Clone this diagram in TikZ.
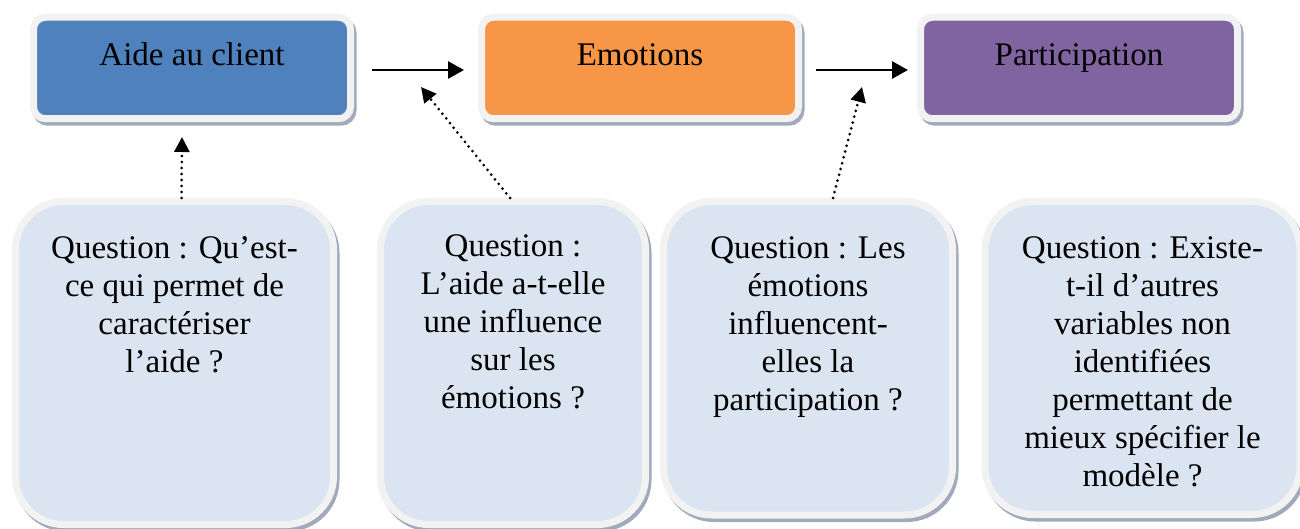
\documentclass[tikz,border=0pt]{standalone}
\usepackage{fontspec}
\setmainfont{Liberation Serif}
\usetikzlibrary{arrows.meta,shadows}
\definecolor{c4f81bd}{RGB}{79,129,189}
\definecolor{cf79646}{RGB}{247,150,70}
\definecolor{c8064a2}{RGB}{128,100,162}
\definecolor{cdbe5f1}{RGB}{219,229,241}
\definecolor{cf2f2f2}{RGB}{242,242,242}
\definecolor{ca0aaba}{RGB}{160,170,186}

\begin{document}
\begin{tikzpicture}[x=0.5pt,y=-0.5pt,
  flow/.style={line width=1.4pt,-{Triangle[length=8pt,width=8.5pt]}},
  hint/.style={line width=1.5pt,dash pattern=on 0pt off 3pt,line cap=round,-{Triangle[length=7.5pt,width=7.5pt]}},
  boxshadow/.style={drop shadow={shadow xshift=1.25pt,shadow yshift=-1.75pt,fill=ca0aaba,draw=ca0aaba,line width=3.5pt,opacity=1}}]

\useasboundingbox (0,0) rectangle (1300,529);

% top row
\begin{scope}[every node/.style={draw=cf2f2f2,line width=3.5pt,rounded corners=6pt,minimum width=158.5pt,minimum height=50.75pt,inner sep=0pt,text height=11pt,text depth=13.25pt,font=\fontsize{16.5}{19}\selectfont,boxshadow}]
\node[fill=c4f81bd] (aide) at (192,68) {Aide au client};
\node[fill=cf79646] (emo) at (640,68) {Emotions};
\node[fill=c8064a2] (part) at (1079,68) {Participation};
\end{scope}

% question boxes
\begin{scope}[every node/.style={draw=cf2f2f2,fill=cdbe5f1,line width=3.5pt,rounded corners=24pt,inner sep=0pt,boxshadow}]
\node[minimum width=159pt,minimum height=161.5pt] (qaide) at (174.5,363) {};
\node[minimum width=132.5pt,minimum height=161.5pt] (qinfl) at (513,363) {};
\node[minimum width=144.5pt,minimum height=156.75pt] (qpart) at (808,358.25) {};
\node[minimum width=157.5pt,minimum height=156.5pt] (qautre) at (1142.5,358) {};
\end{scope}

\begin{scope}[every node/.style={anchor=north,align=center,inner sep=0pt,font=\fontsize{16.5}{19}\selectfont}]
\node (taide) at ([yshift=-19pt]qaide.north) {Question : Qu’est-\\ce qui permet de\\caractériser\\l’aide ?};
\node (tinfl) at ([yshift=-18.25pt]qinfl.north) {Question :\\L’aide a-t-elle\\une influence\\sur les\\émotions ?};
\node (tpart) at ([yshift=-19pt]qpart.north) {Question : Les\\émotions\\influencent-\\elles la\\participation ?};
\node (tautre) at ([yshift=-19pt]qautre.north) {Question : Existe-\\t-il d’autres\\variables non\\identifiées\\permettant de\\mieux spécifier le\\modèle ?};
\end{scope}

% main chain
\draw[flow,shorten <=9pt,shorten >=7pt] ([yshift=-1pt]aide.east) -- ([yshift=-1pt]emo.west);
\draw[flow,shorten <=7pt,shorten >=4.5pt] ([yshift=-1pt]emo.east) -- ([yshift=-1pt]part.west);

% questions pointing up
\coordinate (paide) at (182,137);
\coordinate (pemo) at (421,87);
\coordinate (ppart) at (862,87);
\draw[hint] ([xshift=3.5pt]qaide.north) -- (paide);
\draw[hint] ([xshift=-1.5pt]qinfl.north) -- (pemo);
\draw[hint] ([xshift=12.5pt]qpart.north) -- (ppart);

\end{tikzpicture}
\end{document}
